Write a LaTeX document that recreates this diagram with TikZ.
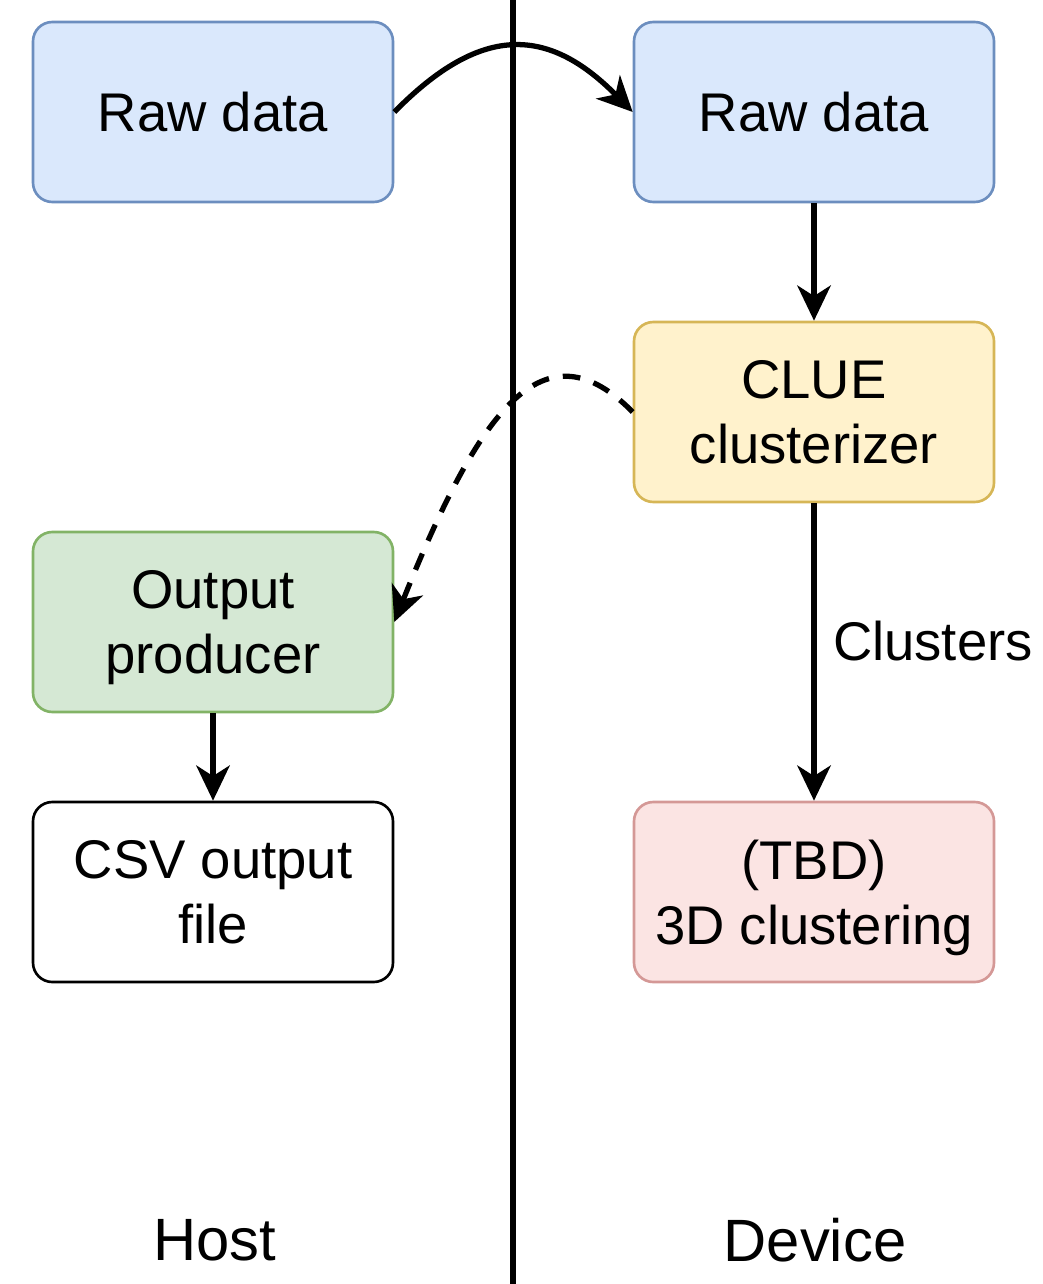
\documentclass[tikz,border=0pt]{standalone}
\usepackage{fontspec}
\setmainfont{Liberation Sans}
\usetikzlibrary{arrows.meta}

\definecolor{rawfill}{HTML}{DAE8FC}
\definecolor{rawdraw}{HTML}{6C8EBF}
\definecolor{cluefill}{HTML}{FFF2CC}
\definecolor{cluedraw}{HTML}{D6B656}
\definecolor{outfill}{HTML}{D5E8D4}
\definecolor{outdraw}{HTML}{82B366}
\definecolor{tbdfill}{HTML}{F8CECC}
\definecolor{tbddraw}{HTML}{B85450}

\tikzset{%
		every block/.style={
			draw,
			rounded corners=11pt,
			line width=1.5pt,
			minimum width=360*0.02cm,
			minimum height=180*0.02cm,
			text depth=0pt,
			align=center,
			font=\fontsize{31}{37}\selectfont
		},
		block raw/.style={fill=rawfill, draw=rawdraw},
		block clue/.style={fill=cluefill, draw=cluedraw},
		block output/.style={fill=outfill, draw=outdraw},
		block tbd/.style={fill=tbdfill!55, draw=tbddraw!60},
		block csv/.style={fill=white, draw=black},
		flow/.style={line width=3pt, -{Stealth[length=20pt,width=19pt,inset=6pt]}},
	}

\begin{document}
\begin{tikzpicture}[x=0.02cm, y=-0.02cm]
			\useasboundingbox (0,0) rectangle (1042,1284);
			
			% host / device split
			\coordinate (split-top) at (513,0);
			\coordinate (split-bottom) at (513,1284);
			\draw [line width=3.2pt] (split-top) -- (split-bottom);
			
			% draw blocks on host side
			\node [every block/.try, block raw/.try] (host-raw) at (213,112) {Raw data};
			\node [every block/.try, block output/.try] (output) at (213,622) {Output\\producer};
			\node [every block/.try, block csv/.try] (csv) at (213,892) {CSV output\\file};
			
			% draw blocks on device side
			\node [every block/.try, block raw/.try] (device-raw) at (814,112) {Raw data};
			\node [every block/.try, block clue/.try] (clue) at (814,412) {CLUE\\clusterizer};
			\node [every block/.try, block tbd/.try] (tbd) at (814,892) {(TBD)\\3D clustering};
			
			% copy to device
			\draw [flow] (host-raw.east) .. controls (480,25) and (547,25) .. (device-raw.west);
			
			% device chain
			\draw [flow] (device-raw) -- (clue);
			\draw [flow] (clue) -- (tbd)
			node [right, midway, xshift=6pt, yshift=6pt, font=\fontsize{31}{37}\selectfont] {Clusters};
			
			% copy back to host
			\draw [flow, dash pattern=on 10pt off 8pt] (clue.west) .. controls (544,322) and (480,408) .. (output.east);
			
			% host chain
			\draw [flow] (output) -- (csv);
			
			% Annotate sides
			\foreach \l/\x in {Host/215, Device/815}
			\node [font=\fontsize{34}{40}\selectfont] (label-\l) at (\x,1240) {\l};
\end{tikzpicture}
\end{document}
